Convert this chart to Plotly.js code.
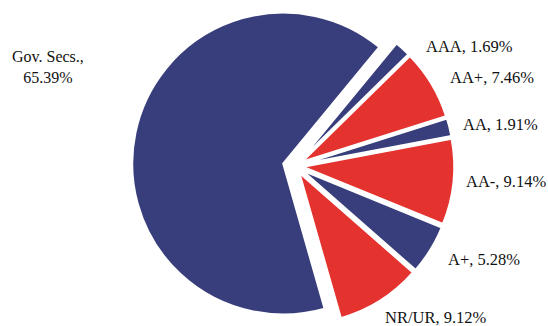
<!DOCTYPE html>
<html>
<head>
<meta charset="utf-8">
<script src="https://cdn.plot.ly/plotly-3.0.1.min.js"></script>
<style>
  html, body { margin: 0; padding: 0; overflow: hidden; background: #ffffff; }
  #chart { width: 548px; height: 332px; }
</style>
</head>
<body>
<div id="chart"></div>
<script>
// Data (clockwise from the top-right)
var labels = ["AAA", "AA+", "AA", "AA-", "A+", "NR/UR", "Gov. Secs."];
var values = [1.69, 7.46, 1.91, 9.14, 5.28, 9.12, 65.39];
var sliceColors = ["#373e7b", "#e4322f", "#373e7b", "#e4322f", "#373e7b", "#e4322f", "#373e7b"];
var pulls = [0.055, 0.055, 0.055, 0.055, 0.055, 0.055, 0.08];

// Label placement (pixels in the page), anchors and font sizes
var labelPos = [
  {x: 424, y: 46, a: "left", s: 16.5},
  {x: 448, y: 77, a: "left", s: 16.5},
  {x: 461, y: 125, a: "left", s: 16.5},
  {x: 464, y: 182, a: "left", s: 16.5},
  {x: 446, y: 259, a: "left", s: 16.5},
  {x: 383, y: 317, a: "left", s: 16.5},
  {x: 48, y: 67, a: "center", s: 16}
];

var W = 548, H = 332, MT = 3, MB = 3;
var plotH = H - MT - MB;

function pxToPaperX(px) { return px / W; }
function pxToPaperY(py) { return (H - MB - py) / plotH; }

var annotations = labels.map(function (lab, i) {
  var txt = (lab === "Gov. Secs.") ? lab + ",<br>" + values[i].toFixed(2) + "%" : lab + ", " + values[i].toFixed(2) + "%";
  return {
    text: txt,
    xref: "paper", yref: "paper",
    x: pxToPaperX(labelPos[i].x), y: pxToPaperY(labelPos[i].y),
    xanchor: labelPos[i].a, yanchor: "middle",
    align: "center",
    showarrow: false,
    font: {family: "Liberation Serif, Times New Roman, serif", size: labelPos[i].s, color: "#111111"}
  };
});

var cxFrac = 295 / W;
var trace = {
  type: "pie",
  labels: labels,
  values: values,
  sort: false,
  direction: "clockwise",
  rotation: 39.5,
  pull: pulls,
  textinfo: "none",
  hoverinfo: "label+percent",
  marker: {colors: sliceColors, line: {color: "#ffffff", width: 2}},
  domain: {x: [cxFrac - 0.32, cxFrac + 0.32], y: [0, 1]},
  showlegend: false
};

var layout = {
  width: W, height: H,
  margin: {l: 0, r: 0, t: MT, b: MB, pad: 0},
  paper_bgcolor: "#ffffff",
  plot_bgcolor: "#ffffff",
  showlegend: false,
  annotations: annotations
};

Plotly.newPlot("chart", [trace], layout, {staticPlot: true, displayModeBar: false});
</script>
</body>
</html>
